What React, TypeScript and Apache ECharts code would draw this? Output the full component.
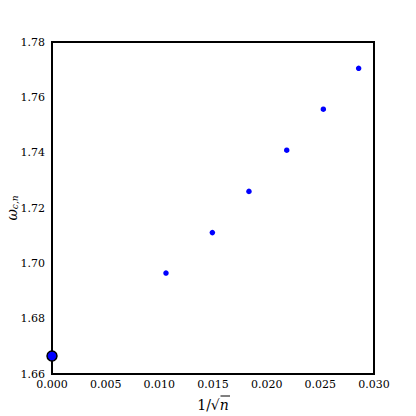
import React, { useEffect, useRef } from "react";
import * as echarts from "echarts";

const xValues = [0.01062, 0.01494, 0.01835, 0.02187, 0.02528, 0.02857];
const yValues = [1.6965, 1.7111, 1.726, 1.7409, 1.7557, 1.7705];
const limitPoint = [0.0, 1.6665];
const xTicks = [0.0, 0.005, 0.01, 0.015, 0.02, 0.025, 0.03];
const yTicks = [1.66, 1.68, 1.7, 1.72, 1.74, 1.76, 1.78];

const FONT = "DejaVu Serif";

export default function App() {
  const ref = useRef<HTMLDivElement>(null);
  useEffect(() => {
    if (!ref.current) return;
    const chart = echarts.init(ref.current, null, { renderer: "svg" });
    chart.setOption({
      animation: false,
      backgroundColor: "#ffffff",
      textStyle: { fontFamily: FONT },
      grid: { left: 52, top: 42, width: 322, height: 332, show: true, borderColor: "#000", borderWidth: 2, backgroundColor: "transparent" },
      xAxis: {
        type: "value",
        min: xTicks[0],
        max: xTicks[xTicks.length - 1],
        interval: 0.005,
        axisLine: { show: false },
        axisTick: { show: false },
        splitLine: { show: false },
        axisLabel: {
          fontFamily: FONT,
          fontSize: 11,
          color: "#000",
          margin: 5,
          formatter: (v: number) => v.toFixed(3),
        },
      },
      yAxis: {
        type: "value",
        min: yTicks[0],
        max: yTicks[yTicks.length - 1],
        interval: 0.02,
        axisLine: { show: false },
        axisTick: { show: false },
        splitLine: { show: false },
        axisLabel: {
          fontFamily: FONT,
          fontSize: 11,
          color: "#000",
          margin: 7,
          formatter: (v: number) => v.toFixed(2),
        },
      },
      series: [
        {
          type: "scatter",
          data: xValues.map((x, i) => [x, yValues[i]]),
          symbol: "circle",
          symbolSize: 5.5,
          itemStyle: { color: "#0000ff", opacity: 1 },
        },
        {
          type: "scatter",
          data: [limitPoint],
          symbol: "circle",
          symbolSize: 10,
          clip: false,
          z: 5,
          itemStyle: { color: "#0000ff", borderColor: "#000", borderWidth: 1.5, opacity: 1 },
        },
      ],
      graphic: [
        {
          type: "text",
          x: 213,
          y: 405,
          style: {
            text: "{a|1/√}{n|n}",
            align: "center",
            verticalAlign: "middle",
            rich: {
              a: { fontFamily: FONT, fontSize: 14, fill: "#000" },
              n: { fontFamily: FONT, fontSize: 14, fontStyle: "italic", fill: "#000" },
            },
          },
        },
        {
          type: "line",
          shape: { x1: 220.5, y1: 396, x2: 230, y2: 396 },
          style: { stroke: "#000", lineWidth: 1 },
        },
        {
          type: "text",
          x: 12,
          y: 208,
          rotation: Math.PI / 2,
          style: {
            text: "{w|ω}{s|c,n}",
            align: "center",
            verticalAlign: "middle",
            rich: {
              w: { fontFamily: FONT, fontSize: 14, fontStyle: "italic", fill: "#000" },
              s: { fontFamily: FONT, fontSize: 9, fontStyle: "italic", fill: "#000", verticalAlign: "bottom", padding: [6, 0, 0, 0] },
            },
          },
        },
      ],
    });
    return () => chart.dispose();
  }, []);
  return (
    <div
      ref={ref}
      style={{ position: "fixed", left: 0, top: 0, width: 416, height: 416, background: "#fff" }}
    />
  );
}
